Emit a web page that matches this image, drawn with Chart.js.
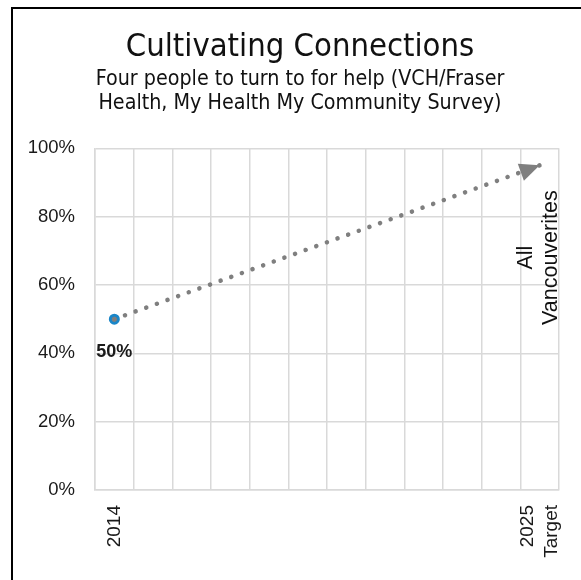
<!DOCTYPE html>
<html>
<head>
<meta charset="utf-8">
<script src="https://cdn.jsdelivr.net/npm/chart.js@4"></script>
<style>
  html, body { margin: 0; padding: 0; background: #fff; }
  #wrap { position: absolute; left: 0; top: 0; width: 581px; height: 580px; }
</style>
</head>
<body>
<div id="wrap"><canvas id="c"></canvas></div>
<script>
// ---- data ----
const categories = ['2014', '', '', '', '', '', '', '', '', '', '', ['2025', 'Target']];
const actualValues = [50, null, null, null, null, null, null, null, null, null, null, null];
const trendValues = [50, null, null, null, null, null, null, null, null, null, null, 95];
const yTickValues = [0, 20, 40, 60, 80, 100];
const seriesName = ['All', 'Vancouverites'];
const seriesLabelValue = 68;

const TITLE_FONT = '"DejaVu Sans Condensed", "DejaVu Sans", sans-serif';
const TICK_FONT = '"Liberation Sans", Arial, sans-serif';
const X_TICK_LINE_HEIGHT = 1.3;
const X_TICK_SIZE = 19;

const decorPlugin = {
  id: 'decor',
  beforeDraw(chart) {
    const ctx = chart.ctx;
    ctx.save();
    ctx.strokeStyle = '#000';
    ctx.lineWidth = 2;
    ctx.strokeRect(12, 8, 800, 800);
    ctx.restore();
    // centre multi-line rotated x tick labels on their category
    const xs = chart.scales.x;
    const items = xs.getLabelItems(chart.chartArea);
    const lh = X_TICK_SIZE * X_TICK_LINE_HEIGHT;
    items.forEach(it => {
      if (Array.isArray(it.label) && it.label.length > 1 && !it._centred) {
        it.options.translation[0] -= (it.label.length - 1) * lh / 2;
        it._centred = true;
      }
    });
  },
  afterDatasetsDraw(chart) {
    const ctx = chart.ctx;
    const xs = chart.scales.x, ys = chart.scales.y;
    // arrow head at end of trend line
    const tm = chart.getDatasetMeta(0);
    const pts = tm.data.filter((p, i) => trendValues[i] !== null);
    const a = pts[0], b = pts[pts.length - 1];
    const ang = Math.atan2(b.y - a.y, b.x - a.x);
    const len = 20, hw = 9;
    const bx = b.x - len * Math.cos(ang), by = b.y - len * Math.sin(ang);
    ctx.save();
    ctx.fillStyle = '#7f7f7f';
    ctx.beginPath();
    ctx.moveTo(b.x, b.y);
    ctx.lineTo(bx - hw * Math.sin(ang), by + hw * Math.cos(ang));
    ctx.lineTo(bx + hw * Math.sin(ang), by - hw * Math.cos(ang));
    ctx.closePath();
    ctx.fill();
    ctx.restore();

    // data label under actual point
    const am = chart.getDatasetMeta(1);
    ctx.save();
    ctx.fillStyle = '#1a1a1a';
    ctx.font = 'bold 18px ' + TICK_FONT;
    ctx.textAlign = 'center';
    ctx.textBaseline = 'middle';
    actualValues.forEach((v, i) => {
      if (v === null) return;
      const p = am.data[i];
      ctx.fillText(v + '%', p.x, p.y + 33);
    });
    ctx.restore();

    // series name label, rotated
    const sx = xs.getPixelForValue(categories.length - 1) - 1;
    const sy = ys.getPixelForValue(seriesLabelValue);
    ctx.save();
    ctx.translate(sx, sy);
    ctx.rotate(-Math.PI / 2);
    ctx.fillStyle = '#111';
    ctx.font = '21.5px ' + TICK_FONT;
    ctx.textAlign = 'center';
    ctx.textBaseline = 'middle';
    const lh = 24.5;
    seriesName.forEach((t, i) => {
      ctx.fillText(t, 0, (i - (seriesName.length - 1) / 2) * lh);
    });
    ctx.restore();
  }
};

new Chart(document.getElementById('c'), {
  type: 'line',
  data: {
    labels: categories,
    datasets: [
      {
        label: 'Trend',
        data: trendValues,
        spanGaps: true,
        borderColor: '#7f7f7f',
        borderWidth: 4.5,
        borderDash: [0.1, 11.2],
        borderCapStyle: 'round',
        pointRadius: 0,
        pointHoverRadius: 0,
        fill: false,
        tension: 0
      },
      {
        label: 'All Vancouverites',
        data: actualValues,
        borderColor: '#1a86c8',
        pointBackgroundColor: '#7f7f7f',
        pointBorderColor: '#1a86c8',
        pointRadius: 4,
        pointBorderWidth: 3,
        showLine: false
      }
    ]
  },
  options: {
    responsive: true,
    maintainAspectRatio: false,
    animation: false,
    events: [],
    layout: { padding: { left: 19, right: 0, top: 12, bottom: 0 } },
    plugins: {
      legend: { display: false },
      tooltip: { enabled: false },
      title: {
        display: true,
        text: 'Cultivating Connections',
        color: '#111',
        font: { family: TITLE_FONT, size: 32.5, weight: 'normal', lineHeight: 1.2 },
        padding: { top: 16.5, bottom: 0 }
      },
      subtitle: {
        display: true,
        text: ['Four people to turn to for help (VCH/Fraser', 'Health, My Health My Community Survey)'],
        color: '#111',
        font: { family: TITLE_FONT, size: 21.3, weight: 'normal', lineHeight: 1.11 },
        padding: { top: 0.5, bottom: 33 }
      }
    },
    scales: {
      x: {
        type: 'category',
        offset: true,
        grid: { display: true, offset: true, color: '#d9d9d9', lineWidth: 1.5, drawTicks: false },
        border: { display: true, color: '#d9d9d9', width: 1.5 },
        ticks: {
          autoSkip: false,
          minRotation: 90,
          maxRotation: 90,
          padding: 15,
          color: '#1a1a1a',
          font: { family: TICK_FONT, size: X_TICK_SIZE, lineHeight: X_TICK_LINE_HEIGHT }
        },
        afterFit(s) { s.height = 90; s.paddingLeft = 0; s.paddingRight = 0; }
      },
      y: {
        type: 'linear',
        position: 'left',
        min: 0,
        max: 100,
        afterBuildTicks(s) { s.ticks = yTickValues.map(v => ({ value: v })); },
        grid: { color: '#d9d9d9', lineWidth: 1.5, drawTicks: false },
        border: { display: true, color: '#d9d9d9', width: 1.5 },
        ticks: {
          padding: 20,
          color: '#1a1a1a',
          font: { family: TICK_FONT, size: 18.5 },
          callback: v => v + '%'
        },
        afterFit(s) { s.width = 76; }
      },
      yRight: {
        type: 'linear',
        position: 'right',
        display: true,
        grid: { display: false, drawTicks: false },
        border: { display: false },
        ticks: { display: false },
        afterFit(s) { s.width = 22; s.paddingTop = 0; s.paddingBottom = 0; }
      }
    }
  },
  plugins: [decorPlugin]
});
</script>
</body>
</html>
